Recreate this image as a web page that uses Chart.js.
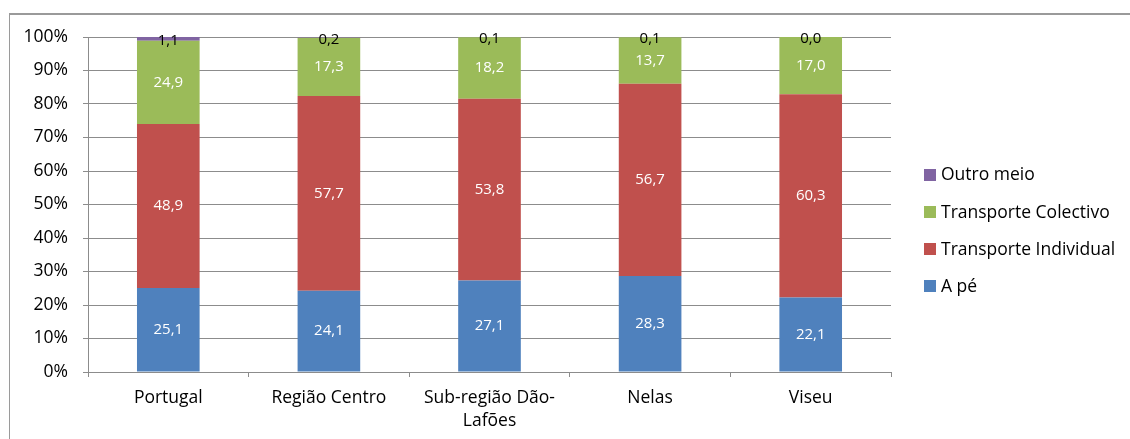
<!DOCTYPE html>
<html>
<head>
<meta charset="utf-8">
<script src="https://cdn.jsdelivr.net/npm/chart.js@4/dist/chart.umd.min.js"></script>
<style>
  html, body { margin: 0; padding: 0; background: #fff; }
  #wrap { width: 1130px; height: 439px; }
</style>
</head>
<body>
<div id="wrap"><canvas id="c" width="1130" height="439"></canvas></div>
<script>
// Modal split of commuting trips (%), by area
const categories = ['Portugal', 'Região Centro', ['Sub-região Dão-', 'Lafões'], 'Nelas', 'Viseu'];
const aPe        = [25.1, 24.1, 27.1, 28.3, 22.1];
const individual = [48.9, 57.7, 53.8, 56.7, 60.3];
const colectivo  = [24.9, 17.3, 18.2, 13.7, 17.0];
const outroMeio  = [1.1, 0.2, 0.1, 0.1, 0.0];
const yTicks     = [0, 10, 20, 30, 40, 50, 60, 70, 80, 90, 100];

const seriesNames  = ['A pé', 'Transporte Individual', 'Transporte Colectivo', 'Outro meio'];
const seriesValues = [aPe, individual, colectivo, outroMeio];
const seriesColors = ['#4F81BD', '#C0504D', '#9BBB59', '#8064A2'];

// 100% stacked: each column is scaled to its own total
const totals = categories.map((_, i) => seriesValues.reduce((s, arr) => s + arr[i], 0));

const FONT = '"Open Sans", "DejaVu Sans", sans-serif';

const datasets = seriesNames.map((name, k) => ({
  label: name,
  raw: seriesValues[k],
  data: seriesValues[k].map((v, i) => v / totals[i] * 100),
  backgroundColor: seriesColors[k],
  borderWidth: 0,
  categoryPercentage: 1.0,
  barPercentage: 0.39
}));

const fmt = v => v.toFixed(1).replace('.', ',');

// Frame lines along the top and left of the picture
const framePlugin = {
  id: 'frame',
  beforeDraw(chart) {
    const ctx = chart.ctx;
    ctx.save();
    ctx.fillStyle = '#ffffff';
    ctx.fillRect(0, 0, chart.width, chart.height);
    ctx.fillStyle = '#9a9a9a';
    ctx.fillRect(9, 13, chart.width - 9, 2);
    ctx.fillRect(9, 13, 1, chart.height - 13);
    ctx.restore();
  }
};

// Value labels centred inside each segment
const valuePlugin = {
  id: 'values',
  afterDatasetsDraw(chart) {
    const ctx = chart.ctx;
    const last = chart.data.datasets.length - 1;
    ctx.save();
    ctx.font = '15px ' + FONT;
    ctx.textAlign = 'center';
    ctx.textBaseline = 'middle';
    chart.data.datasets.forEach((ds, k) => {
      const meta = chart.getDatasetMeta(k);
      ctx.fillStyle = k === last ? '#000000' : '#ffffff';
      meta.data.forEach((el, i) => {
        const p = el.getProps(['x', 'y', 'base'], true);
        let cy = (p.y + p.base) / 2;
        if (k === last) cy += 2;
        ctx.fillText(fmt(ds.raw[i]), p.x, cy);
      });
    });
    ctx.restore();
  }
};

// Legend listed top-down in reverse stacking order
const legendPlugin = {
  id: 'sideLegend',
  afterDraw(chart, args, opts) {
    const ctx = chart.ctx;
    ctx.save();
    ctx.font = opts.font;
    ctx.textBaseline = 'middle';
    ctx.textAlign = 'left';
    const items = chart.data.datasets.slice().reverse();
    items.forEach((ds, j) => {
      const cy = opts.top + j * opts.step;
      ctx.fillStyle = ds.backgroundColor;
      ctx.fillRect(opts.left, Math.round(cy - opts.box / 2), opts.box, opts.box);
      ctx.fillStyle = '#000000';
      ctx.fillText(ds.label, opts.left + opts.box + 5, cy + 1);
    });
    ctx.restore();
  }
};

new Chart(document.getElementById('c'), {
  type: 'bar',
  data: { labels: categories, datasets },
  plugins: [framePlugin, valuePlugin, legendPlugin],
  options: {
    responsive: false,
    animation: false,
    devicePixelRatio: 1,
    layout: { padding: { left: 0, top: 37, right: 239, bottom: 0 } },
    plugins: {
      legend: { display: false },
      tooltip: { enabled: false },
      sideLegend: { left: 924, top: 174.5, step: 37.3, box: 12, font: '17.5px ' + FONT }
    },
    scales: {
      x: {
        stacked: true,
        afterFit(scale) { scale.height = 67; },
        grid: {
          offset: true,
          drawOnChartArea: false,
          drawTicks: true,
          tickLength: 5,
          color: '#8c8c8c'
        },
        border: { color: '#8c8c8c' },
        ticks: {
          color: '#000000',
          padding: 10,
          font: { family: FONT, size: 17.5, lineHeight: 1.3 },
          maxRotation: 0,
          autoSkip: false
        }
      },
      y: {
        stacked: true,
        min: 0,
        max: 100,
        afterFit(scale) { scale.width = 88; },
        afterBuildTicks(scale) { scale.ticks = yTicks.map(v => ({ value: v })); },
        grid: {
          color: '#8c8c8c',
          drawTicks: true,
          tickLength: 5
        },
        border: { color: '#8c8c8c' },
        ticks: {
          color: '#000000',
          padding: 15,
          font: { family: FONT, size: 17.5 },
          callback: v => v + '%'
        }
      }
    }
  }
});
</script>
</body>
</html>
